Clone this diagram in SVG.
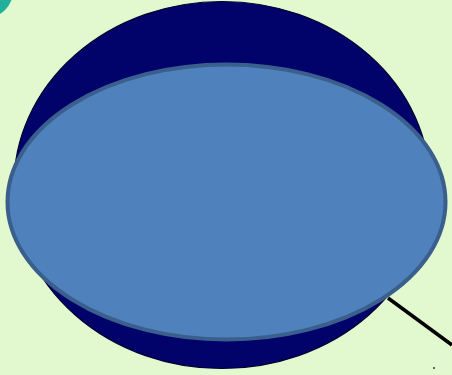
<svg xmlns="http://www.w3.org/2000/svg" width="452" height="375" viewBox="0 0 452 375">
<style>
.bg{fill:#e2f9cf}
.navy{fill:#02026b;stroke:#000030;stroke-width:1.2}
.blue{fill:#4f81bd;stroke:#3a5f8c;stroke-width:4}
.line{stroke:#000;stroke-width:3.5;fill:none}
</style>
<rect class="bg" x="0" y="0" width="452" height="375"/>
<g id="teal"><circle cx="-14" cy="-9" r="27" fill="#22b09c"/></g>
<g id="connectors"><line class="line" x1="388" y1="298" x2="452" y2="345"/><circle cx="434" cy="368" r="1" fill="#333"/></g>
<g id="navy-disc"><ellipse class="navy" cx="222" cy="185" rx="208" ry="183.5"/></g>
<g id="blue-ellipse"><ellipse class="blue" cx="226.5" cy="202" rx="219" ry="137.5"/></g>
</svg>
